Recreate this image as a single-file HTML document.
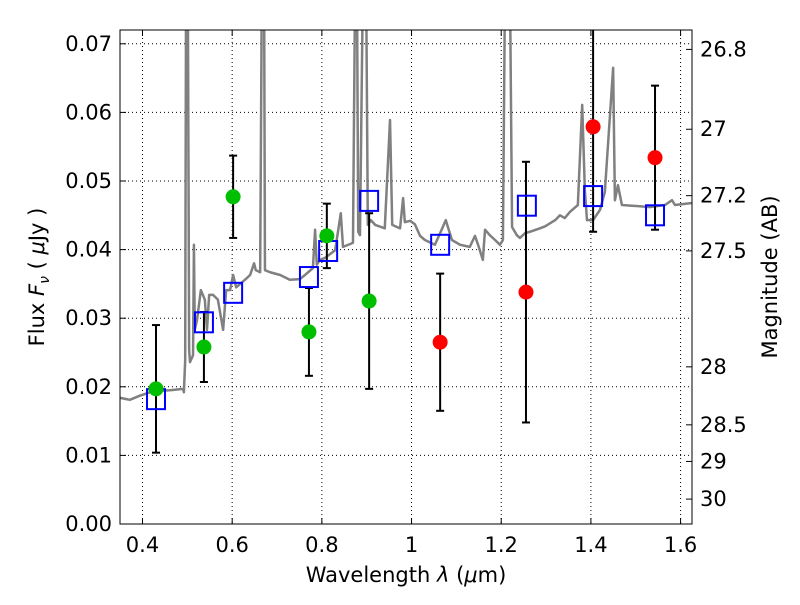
<!DOCTYPE html>
<html><head><meta charset="utf-8"><style>
html,body{margin:0;padding:0;background:#fff;}
svg text{font-family:"DejaVu Sans","Liberation Sans",sans-serif;fill:#000;}
</style></head><body>
<svg id="chart" width="800" height="600" viewBox="0 0 800 600" xmlns="http://www.w3.org/2000/svg">
<defs><clipPath id="clip"><rect x="120" y="30" width="572" height="494"/></clipPath></defs>
<g id="grid"></g>
<g id="marks" clip-path="url(#clip)"></g>
<rect x="120" y="30" width="572" height="494" fill="none" stroke="#000" stroke-width="1"/>
<g id="axes"></g>
<text x="406" y="582" font-size="21" text-anchor="middle">Wavelength  <tspan font-style="italic">λ</tspan> (<tspan font-style="italic">μ</tspan>m)</text>
<text transform="translate(44,277) rotate(-90)" font-size="21" text-anchor="middle">Flux  <tspan font-style="italic">F</tspan><tspan font-style="italic" font-size="14" dy="5">ν</tspan><tspan dy="-5">  ( </tspan><tspan font-style="italic">μ</tspan>Jy )</text>
<text transform="translate(777,277) rotate(-90)" font-size="21" text-anchor="middle">Magnitude (AB)</text>
</svg>
<script>
const specW=[0.3494,0.3718,0.3941,0.4165,0.4388,0.4612,0.4904,0.4923,0.4952,0.4972,0.5010,0.5040,0.5059,0.5127,0.5147,0.5166,0.5215,0.5302,0.5390,0.5438,0.5487,0.5574,0.5681,0.5798,0.5866,0.5953,0.6021,0.6089,0.6284,0.6400,0.6488,0.6527,0.6624,0.6663,0.6711,0.6731,0.6847,0.7071,0.7285,0.7508,0.7625,0.7800,0.7849,0.7887,0.7955,0.8072,0.8296,0.8422,0.8471,0.8626,0.8694,0.8743,0.8782,0.8811,0.8850,0.8918,0.8986,0.9025,0.9092,0.9190,0.9403,0.9520,0.9569,0.9744,0.9812,0.9851,0.9967,1.0074,1.0191,1.0298,1.0521,1.0638,1.0764,1.0900,1.1085,1.1299,1.1415,1.1484,1.1590,1.1639,1.1746,1.1863,1.1970,1.2038,1.2086,1.2193,1.2242,1.2349,1.2417,1.2533,1.2640,1.2864,1.2980,1.3204,1.3310,1.3417,1.3534,1.3709,1.3806,1.3865,1.3913,1.4049,1.4204,1.4311,1.4496,1.4535,1.4603,1.4691,1.4914,1.5322,1.5653,1.5808,1.5876,1.6255];
const specF=[0.0184,0.0181,0.0187,0.0192,0.0194,0.0195,0.0197,0.0192,0.0239,0.08,0.08,0.0254,0.0236,0.0246,0.0407,0.0283,0.0297,0.0341,0.0327,0.0283,0.0334,0.0334,0.0327,0.0283,0.0341,0.0341,0.0363,0.0345,0.0356,0.0363,0.0380,0.0370,0.0367,0.08,0.08,0.0370,0.0367,0.0363,0.0356,0.0357,0.0363,0.0373,0.0429,0.0378,0.0385,0.0388,0.0399,0.0453,0.0404,0.0408,0.0410,0.08,0.08,0.0426,0.0421,0.08,0.08,0.0436,0.0443,0.0436,0.0431,0.0589,0.0436,0.0431,0.0475,0.0440,0.0442,0.0437,0.0420,0.0414,0.0407,0.0424,0.0443,0.0414,0.0407,0.0404,0.0420,0.0407,0.0385,0.0429,0.0421,0.0414,0.0407,0.0414,0.08,0.08,0.0433,0.0421,0.0417,0.0424,0.0426,0.0431,0.0434,0.0443,0.0450,0.0446,0.0455,0.0465,0.0611,0.0487,0.0443,0.0443,0.0458,0.0484,0.0665,0.0472,0.0494,0.0465,0.0464,0.0462,0.0465,0.0472,0.0465,0.0468];
const modelW=[0.4301,0.5370,0.6021,0.7712,0.8140,0.9054,1.0638,1.2572,1.4049,1.5430];
const modelF=[0.0182,0.0294,0.0337,0.0360,0.0398,0.0471,0.0407,0.0464,0.0478,0.0450];
const greenW=[0.4301,0.5370,0.6021,0.7712,0.8111,0.9054];
const greenF=[0.0197,0.0258,0.0477,0.0280,0.0420,0.0325];
const greenE=[0.0093,0.0051,0.0060,0.0064,0.0047,0.0128];
const redW=[1.0638,1.2552,1.4049,1.5430];
const redF=[0.0265,0.0338,0.0579,0.0534];
const redE=[0.0100,0.0190,0.0153,0.0105];
const xTicks=[0.4,0.6,0.8,1.0,1.2,1.4,1.6];
const xTickLabels=["0.4","0.6","0.8","1","1.2","1.4","1.6"];
const yTicks=[0,0.01,0.02,0.03,0.04,0.05,0.06,0.07];
const yTickLabels=["0.00","0.01","0.02","0.03","0.04","0.05","0.06","0.07"];
const magTicks=[26.8,27,27.2,27.4,28,28.5,29,30];
const magTickLabels=["26.8","27","27.2","27.5","28","28.5","29","30"];

const X=w=>142.5+(w-0.4)*448.4;
const Y=f=>524-f*6860;
const NS="http://www.w3.org/2000/svg";
function mk(parent,tag,attrs){const e=document.createElementNS(NS,tag);for(const k in attrs)e.setAttribute(k,attrs[k]);parent.appendChild(e);return e;}
const grid=document.getElementById('grid'),marks=document.getElementById('marks'),axes=document.getElementById('axes');

xTicks.forEach((t,i)=>{
  const x=X(t);
  const g=mk(grid,'line',{x1:x,x2:x,y1:30,y2:524,stroke:'#000','stroke-width':1,'stroke-dasharray':'1,3'});
  
  
  mk(axes,'line',{x1:x,x2:x,y1:524,y2:518,stroke:'#000'});
  mk(axes,'line',{x1:x,x2:x,y1:30,y2:36,stroke:'#000'});
  const tx=mk(axes,'text',{x:x,y:552,'font-size':21,'text-anchor':'middle'});
  tx.textContent=xTickLabels[i];
  
  
});
yTicks.forEach((t,i)=>{
  const y=Y(t);
  const g=mk(grid,'line',{x1:120,x2:692,y1:y,y2:y,stroke:'#000','stroke-width':1,'stroke-dasharray':'1,3'});
  
  
  mk(axes,'line',{x1:120,x2:126,y1:y,y2:y,stroke:'#000'});
  const tx=mk(axes,'text',{x:112,y:y+7,'font-size':21,'text-anchor':'end'});
  tx.textContent=yTickLabels[i];
  
  
});
magTicks.forEach((m,i)=>{
  const f=Math.pow(10,(23.9-m)/2.5);
  const y=Y(f);
  mk(axes,'line',{x1:686,x2:692,y1:y,y2:y,stroke:'#000'});
  const tx=mk(axes,'text',{x:700,y:y+7,'font-size':21,'text-anchor':'start'});
  tx.textContent=magTickLabels[i];
  
  
});

const sp=mk(marks,'polyline',{points:specW.map((w,i)=>X(w)+','+Y(specF[i])).join(' '),fill:'none',stroke:'#808080','stroke-width':2.5,'stroke-linejoin':'round'});



function errbar(w,f,e,name){
  const x=X(w),y1=Y(f+e),y2=Y(f-e);
  const g=mk(marks,'g',{});
  
  
  mk(g,'line',{x1:x,x2:x,y1:y1,y2:y2,stroke:'#000','stroke-width':2});
  mk(g,'line',{x1:x-4,x2:x+4,y1:y1,y2:y1,stroke:'#000','stroke-width':2});
  mk(g,'line',{x1:x-4,x2:x+4,y1:y2,y2:y2,stroke:'#000','stroke-width':2});
}
greenW.forEach((w,i)=>errbar(w,greenF[i],greenE[i],'green-errorbar'));
redW.forEach((w,i)=>errbar(w,redF[i],redE[i],'red-errorbar'));
modelW.forEach((w,i)=>{
  const r=mk(marks,'rect',{x:X(w)-9,y:Y(modelF[i])-10,width:18,height:20,fill:'none',stroke:'#0000ff','stroke-width':2});
  
  
});
greenW.forEach((w,i)=>{
  const c=mk(marks,'circle',{cx:X(w),cy:Y(greenF[i]),r:7.5,fill:'#00bf00'});
  
  
});
redW.forEach((w,i)=>{
  const c=mk(marks,'circle',{cx:X(w),cy:Y(redF[i]),r:7.5,fill:'#ff0000'});
  
  
});
</script>
</body></html>
